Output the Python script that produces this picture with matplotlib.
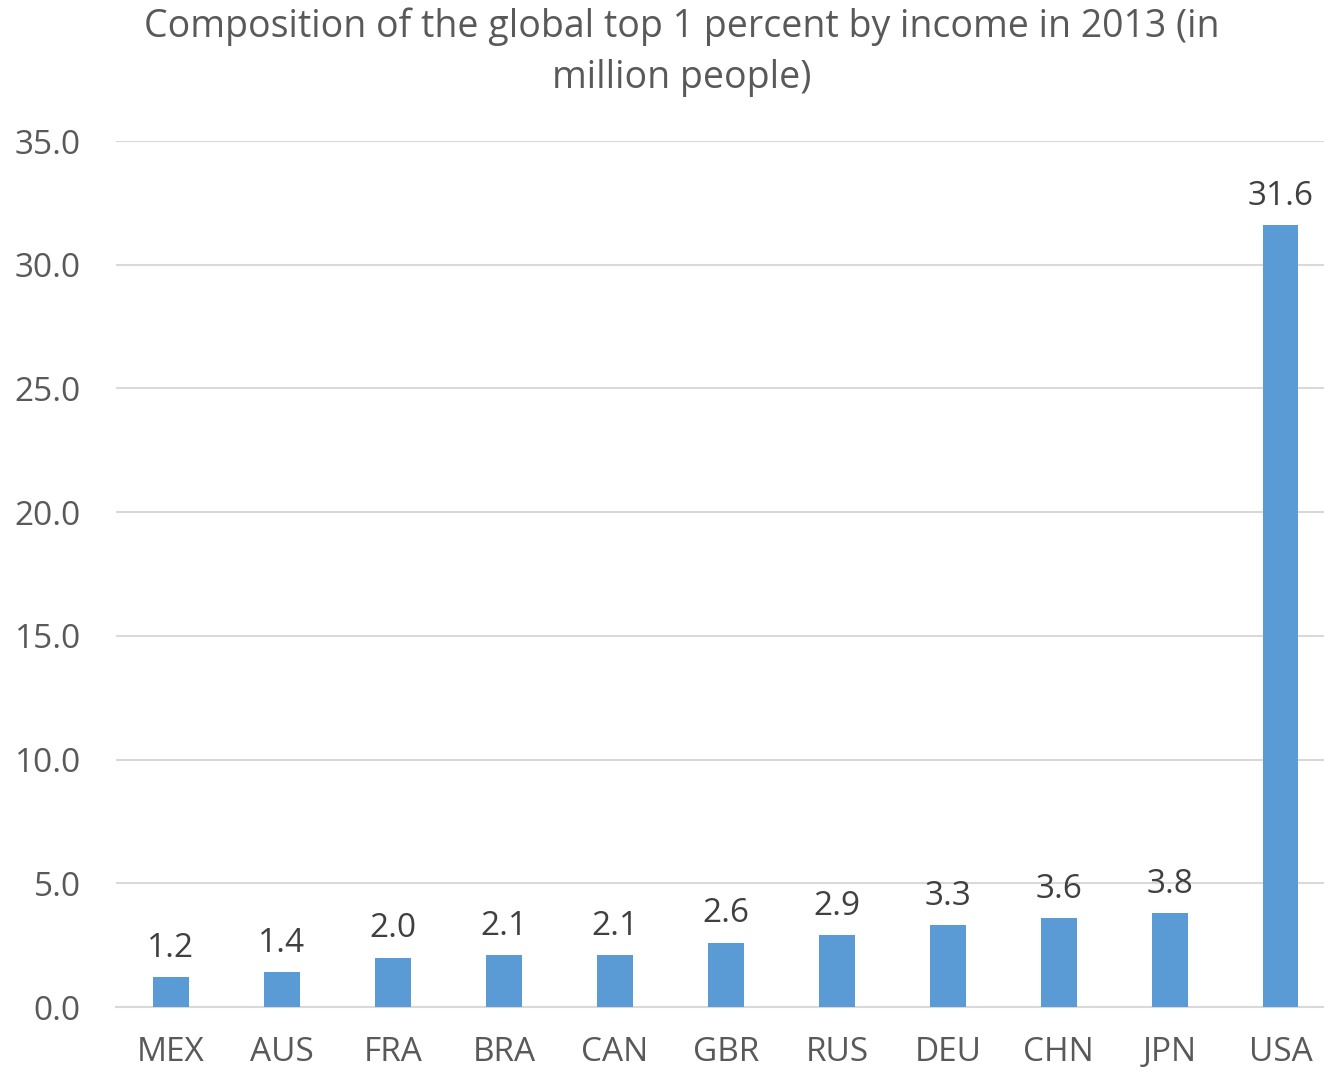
import matplotlib
matplotlib.use("Agg")
import matplotlib.pyplot as plt

countries = ["MEX", "AUS", "FRA", "BRA", "CAN", "GBR", "RUS", "DEU", "CHN", "JPN", "USA"]
people_mn = [1.2, 1.4, 2.0, 2.1, 2.1, 2.6, 2.9, 3.3, 3.6, 3.8, 31.6]
yticks = [0, 5, 10, 15, 20, 25, 30, 35]

plt.rcParams['font.family'] = ['Open Sans', 'DejaVu Sans']
text_color = "#595959"

fig = plt.figure(figsize=(13.24, 10.72), dpi=100)
ax = fig.add_axes([115.5 / 1324, 1 - 1007 / 1072, (1324 - 115.5) / 1324, (1007 - 141) / 1072])

x = range(len(countries))
bars = ax.bar(x, people_mn, width=0.32, color="#5B9BD5", zorder=3)
for xi, v in zip(x, people_mn):
    ax.text(xi, v + 0.5, f"{v:.1f}", ha="center", va="bottom",
            fontsize=24, color="#404040")

ax.set_xlim(-0.5, 10.39)
ax.set_ylim(0, 35)
ax.set_yticks(yticks)
ax.set_yticklabels([f"{t:.1f}" for t in yticks])
ax.set_xticks(list(x))
ax.set_xticklabels(countries)
ax.tick_params(axis="both", length=0, labelsize=24, colors=text_color)
ax.tick_params(axis="x", pad=21)
ax.tick_params(axis="y", pad=25)
ax.grid(axis="y", color="#D9D9D9", linewidth=1.5, zorder=0)
for side in ["top", "right", "left"]:
    ax.spines[side].set_visible(False)
ax.spines["bottom"].set_color("#D9D9D9")
ax.spines["bottom"].set_linewidth(1.5)

fig.text(682 / 1324, 1 - 52 / 1072,
         "Composition of the global top 1 percent by income in 2013 (in\nmillion people)",
         ha="center", va="center", fontsize=27, color=text_color, linespacing=1.43)

fig.savefig("out.png", dpi=100)
